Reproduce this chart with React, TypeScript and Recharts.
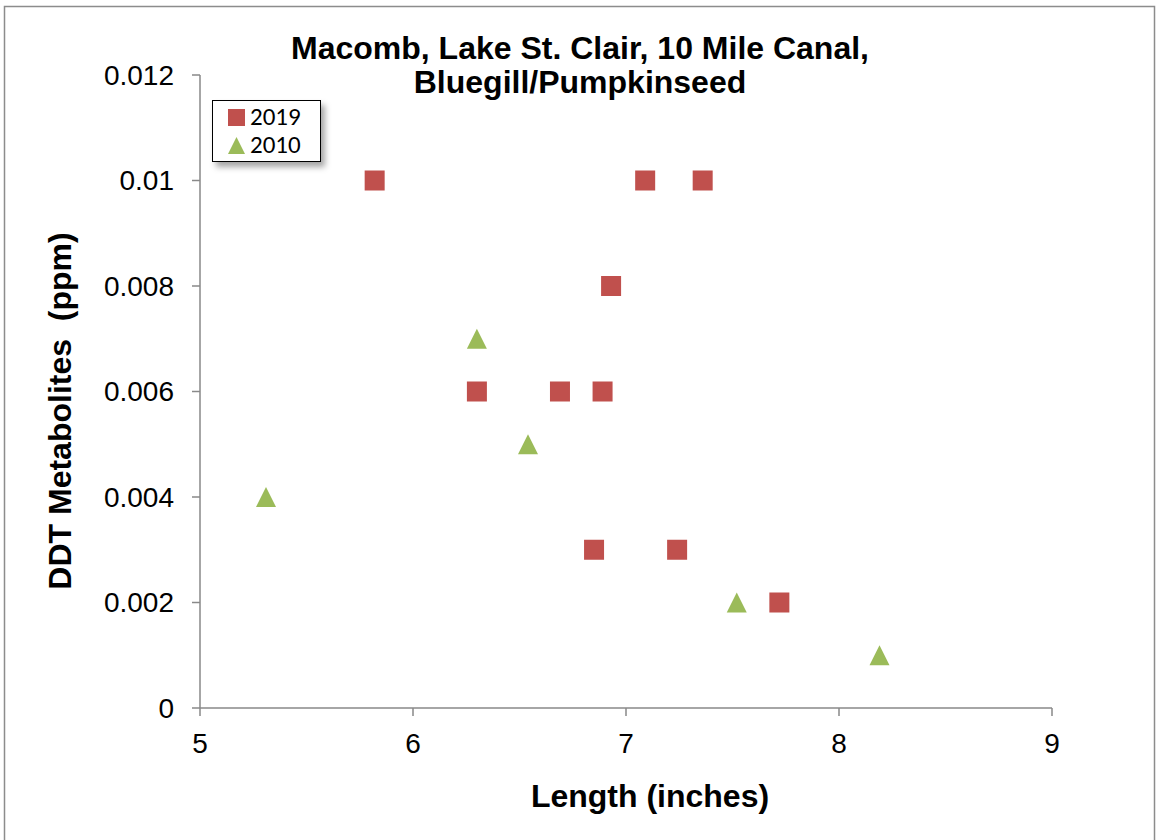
import React from 'react';
import { ScatterChart, Scatter, XAxis, YAxis, Legend } from 'recharts';

// 2019 samples (squares)
const len2019 = [5.82, 7.09, 7.36, 6.93, 6.30, 6.69, 6.89, 6.85, 7.24, 7.72];
const ddt2019 = [0.01, 0.01, 0.01, 0.008, 0.006, 0.006, 0.006, 0.003, 0.003, 0.002];

// 2010 samples (triangles)
const len2010 = [5.31, 6.30, 6.54, 7.52, 8.19];
const ddt2010 = [0.004, 0.007, 0.005, 0.002, 0.001];

const xTicks = [5, 6, 7, 8, 9];
const yTicks = [0, 0.002, 0.004, 0.006, 0.008, 0.01, 0.012];
const yTickLabels = ['0', '0.002', '0.004', '0.006', '0.008', '0.01', '0.012'];

const titleLines = ['Macomb, Lake St. Clair, 10 Mile Canal,', 'Bluegill/Pumpkinseed'];

const RED = '#C0504D';
const GREEN = '#9BBB59';
const AXIS = '#898989';
const FONT = '"Liberation Sans", Arial, sans-serif';

const data2019 = len2019.map((x, i) => ({ x, y: ddt2019[i] }));
const data2010 = len2010.map((x, i) => ({ x, y: ddt2010[i] }));

const SquareMark = (props: any) => {
  const { cx, cy } = props;
  return <rect x={cx - 10} y={cy - 10} width={20} height={20} fill={RED} />;
};

const TriangleMark = (props: any) => {
  const { cx, cy } = props;
  return <polygon points={`${cx},${cy - 10} ${cx + 10},${cy + 10} ${cx - 10},${cy + 10}`} fill={GREEN} />;
};

const LegendBox = () => (
  <div
    style={{
      width: 109,
      height: 62,
      border: '1.5px solid #000',
      background: '#fff',
      boxShadow: '4px 5px 6px rgba(0,0,0,0.35)',
      fontFamily: 'Carlito, Lato, ' + FONT,
      fontSize: 25,
      lineHeight: '28px',
      paddingTop: 2,
      boxSizing: 'border-box',
    }}
  >
    {[
      { name: '2019', icon: <rect x={1} y={1} width={17} height={17} fill={RED} /> },
      { name: '2010', icon: <polygon points="9.5,1 18,18 1,18" fill={GREEN} /> },
    ].map((it) => (
      <div key={it.name} style={{ display: 'flex', alignItems: 'center', paddingLeft: 14 }}>
        <svg width={19} height={19} style={{ marginRight: 4 }}>{it.icon}</svg>
        <span>{it.name}</span>
      </div>
    ))}
  </div>
);

export default function App() {
  return (
    <div style={{ position: 'absolute', left: 0, top: 0, width: 1156, height: 840, background: '#fff' }}>
      <ScatterChart width={1156} height={840} margin={{ top: 75, right: 104, bottom: 102, left: 140 }}>
        <rect x={4.5} y={6.5} width={1150} height={840} fill="none" stroke="#8c8c8c" strokeWidth={1.5} />
        <XAxis
          type="number"
          dataKey="x"
          domain={[5, 9]}
          ticks={xTicks}
          height={30}
          stroke={AXIS}
          strokeWidth={1.5}
          tickSize={8}
          tickMargin={17}
          tick={{ fill: '#000', fontSize: 28, fontFamily: FONT }}
        />
        <YAxis
          type="number"
          dataKey="y"
          domain={[0, 0.012]}
          ticks={yTicks}
          width={60}
          stroke={AXIS}
          strokeWidth={1.5}
          tickSize={8}
          tickMargin={18}
          tickFormatter={(v: number) => yTickLabels[yTicks.indexOf(v)] ?? String(v)}
          tick={{ fill: '#000', fontSize: 28, fontFamily: FONT }}
        />
        <Legend
          layout="vertical"
          align="center"
          verticalAlign="middle"
          wrapperStyle={{ left: 212, top: 100, width: 110, height: 62 }}
          content={() => <LegendBox />}
        />
        <Scatter name="2019" data={data2019} shape={SquareMark} isAnimationActive={false} />
        <Scatter name="2010" data={data2010} shape={TriangleMark} isAnimationActive={false} />
        <text x={580} y={59} textAnchor="middle" fontFamily={FONT} fontWeight="bold" fontSize={32} fill="#000">
          {titleLines[0]}
        </text>
        <text x={580} y={93} textAnchor="middle" fontFamily={FONT} fontWeight="bold" fontSize={32} fill="#000">
          {titleLines[1]}
        </text>
        <text x={650} y={807} textAnchor="middle" fontFamily={FONT} fontWeight="bold" fontSize={32} fill="#000">
          Length (inches)
        </text>
        <text
          x={71}
          y={411}
          transform="rotate(-90 71 411)"
          textAnchor="middle"
          fontFamily={FONT}
          fontWeight="bold"
          fontSize={32}
          fill="#000"
          style={{ whiteSpace: 'pre' }}
        >
          {'DDT Metabolites  (ppm)'}
        </text>
      </ScatterChart>
    </div>
  );
}
